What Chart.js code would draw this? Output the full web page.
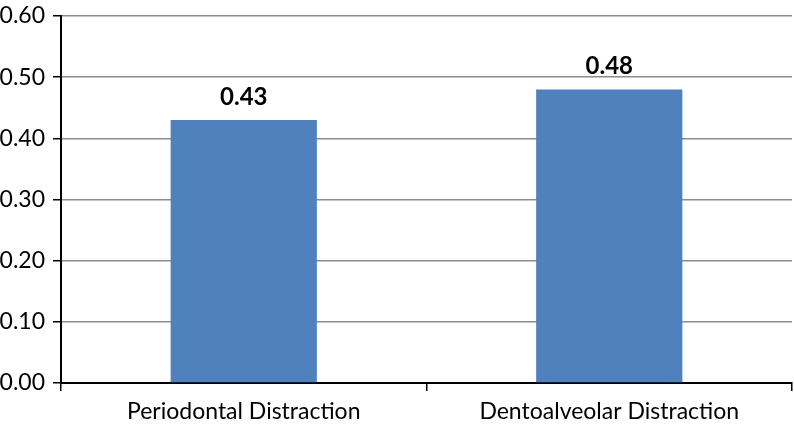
<!DOCTYPE html>
<html>
<head>
<meta charset="utf-8">
<script src="https://cdn.jsdelivr.net/npm/chart.js@4"></script>
<style>
  html, body { margin: 0; padding: 0; background: #fff; }
  #wrap { width: 794px; height: 429px; }
</style>
</head>
<body>
<div id="wrap"><canvas id="chart"></canvas></div>
<script>
// Chart data
const categories = ['Periodontal Distraction', 'Dentoalveolar Distraction'];
const values = [0.43, 0.48];
const yTicks = [0, 0.1, 0.2, 0.3, 0.4, 0.5, 0.6];

const FONT = 'Lato, Carlito, "Open Sans", sans-serif';

// Bold value labels above bars
const valueLabels = {
  id: 'valueLabels',
  afterDatasetsDraw(chart) {
    const ctx = chart.ctx;
    const meta = chart.getDatasetMeta(0);
    ctx.save();
    ctx.font = 'bold 24px ' + FONT;
    ctx.fillStyle = '#000';
    ctx.textAlign = 'center';
    ctx.textBaseline = 'alphabetic';
    meta.data.forEach((bar, i) => {
      ctx.fillText(values[i].toFixed(2), bar.x, bar.y - 15);
    });
    ctx.restore();
  },
};

const config = {
  type: 'bar',
  data: {
    labels: categories,
    datasets: [
      {
        data: values,
        backgroundColor: '#4F81BD',
        borderWidth: 0,
        categoryPercentage: 1,
        barPercentage: 0.4,
      },
    ],
  },
  options: {
    responsive: true,
    maintainAspectRatio: false,
    animation: false,
    layout: { padding: { top: 0, right: 2, left: 0, bottom: 0 } },
    plugins: {
      legend: { display: false },
      tooltip: { enabled: false },
    },
    scales: {
      x: {
        offset: true,
        grid: {
          offset: true,
          drawOnChartArea: false,
          drawTicks: true,
          tickLength: 8,
          color: '#000',
          lineWidth: 1.5,
        },
        border: { color: '#000', width: 2 },
        ticks: {
          color: '#000',
          font: { family: FONT, size: 23 },
          padding: 7,
        },
        afterFit(axis) { axis.height = 46; },
      },
      y: {
        min: 0,
        max: 0.6,
        afterBuildTicks(axis) {
          axis.ticks = yTicks.map((v) => ({ value: v }));
        },
        grid: {
          color: (c) => (c.tick && c.tick.value === 0 ? '#000' : '#8c8c8c'),
          lineWidth: 1.5,
          tickLength: 8,
          tickColor: '#000',
        },
        border: { color: '#000', width: 2 },
        ticks: {
          color: '#000',
          font: { family: FONT, size: 23 },
          padding: 8,
          callback: (v) => Number(v).toFixed(2),
        },
        afterFit(axis) {
          axis.width = 61;
          axis.paddingTop = 16;
          axis.paddingBottom = 0;
        },
      },
    },
  },
  plugins: [valueLabels],
};

new Chart(document.getElementById('chart'), config);
</script>
</body>
</html>
